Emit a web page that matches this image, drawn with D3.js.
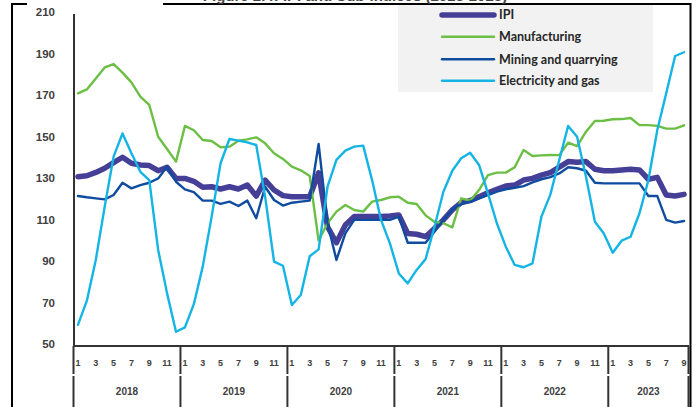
<!DOCTYPE html>
<html><head><meta charset="utf-8">
<script src="https://cdn.jsdelivr.net/npm/d3@7"></script>
<style>
html,body{margin:0;padding:0;background:#fff;}
svg{display:block;}
</style></head>
<body>
<svg id="chart" width="698" height="407"></svg>
<script>
// ---- data ----
const years = [2018, 2019, 2020, 2021, 2022, 2023];
const monthsPerYear = [12, 12, 12, 12, 12, 9];
const yTicks = [50, 70, 90, 110, 130, 150, 170, 190, 210];
const seriesNames = ["IPI", "Manufacturing", "Mining and quarrying", "Electricity and gas"];

const ipi = [130.6,131.1,132.7,134.7,137.4,140.0,137.1,136.3,136.0,133.5,135.2,129.8,
  129.8,128.4,125.5,125.8,124.7,125.8,124.7,126.6,121.3,129.0,124.2,121.5,
  121.0,121.0,121.0,132.5,106.5,98.8,107.3,111.4,111.4,111.4,111.4,111.7,
  112.2,103.3,102.9,101.7,105.7,109.8,114.6,118.1,119.1,121.0,122.9,124.5,
  126.1,126.6,129.0,129.8,131.4,132.6,135.2,137.9,137.6,137.9,134.2,133.5,
  133.5,133.9,134.2,133.9,129.4,130.3,121.8,121.3,122.1];
const manufacturing = [170.8,172.7,178.0,183.3,184.9,180.8,176.1,169.2,165.2,149.9,144.0,137.9,
  155.1,153.0,148.3,147.8,144.8,145.1,148.0,148.6,149.6,146.7,141.9,139.2,
  135.5,133.7,131.0,99.8,108.2,113.8,117.0,114.6,113.8,118.6,119.4,120.7,
  121.0,118.1,117.5,112.0,108.9,108.2,106.2,120.2,119.1,124.2,131.4,132.6,
  132.6,135.2,143.5,140.6,140.9,141.1,141.0,147.0,145.4,152.3,157.5,157.6,
  158.3,158.4,158.9,155.5,155.5,155.1,153.8,153.8,155.4];
const mining = [121.3,120.7,120.2,119.7,121.8,127.7,125.0,126.6,127.7,129.8,135.4,128.2,
  124.5,123.2,119.1,119.1,117.5,118.6,116.5,119.1,110.6,125.8,119.4,116.7,
  118.1,118.6,119.1,146.4,108.2,90.5,103.3,109.8,109.8,109.8,109.8,109.8,
  111.4,98.8,98.8,98.8,104.1,109.8,114.9,117.5,118.6,120.2,121.8,123.4,
  124.5,125.3,126.1,127.9,129.4,130.4,132.2,135.2,134.7,133.5,127.7,127.4,
  127.4,127.4,127.4,127.4,121.3,121.3,109.8,108.5,109.3];
const electricity = [59.2,70.9,90.5,116.2,140.3,151.5,141.9,133.0,129.0,95.3,74.4,55.9,
  58.0,69.2,87.3,111.4,137.1,148.8,148.0,147.2,145.9,121.0,89.7,87.7,
  68.8,73.6,92.3,95.6,125.8,138.7,143.2,145.1,145.6,129.0,109.8,98.5,
  84.0,79.2,85.7,90.9,106.5,123.4,133.5,139.5,142.2,136.3,122.6,108.2,
  96.9,88.1,87.0,88.9,111.4,122.0,138.7,155.1,149.9,130.6,108.9,103.3,
  94.0,99.8,101.7,113.0,129.0,153.1,170.8,188.8,190.6];

const seriesData = [ipi, manufacturing, mining, electricity];
const colors = ["#463f97", "#6cbf45", "#0f4c9f", "#14b4e4"];
const widths = [5.5, 2.4, 2.4, 2.4];

// ---- categories ----
const cats = [];
years.forEach((y, yi) => { for (let m = 1; m <= monthsPerYear[yi]; m++) cats.push({year: y, month: m, idx: cats.length}); });

const svg = d3.select("#chart");
const ink = "#333333";
const txt = "#404040";
const font = "'Liberation Sans', Arial, sans-serif";
const legFont = "Lato, 'Liberation Sans', sans-serif";

const x = d3.scaleBand().domain(cats.map(d => d.idx)).range([73.5, 688.5]).padding(0);
const y = d3.scaleLinear().domain([50, 210]).range([344, 12]);
const cx = i => x(i) + x.bandwidth() / 2;

// frame
svg.append("rect").attr("x", 12).attr("y", 4).attr("width", 678.5).attr("height", 420)
  .attr("fill", "none").attr("stroke", "#000").attr("stroke-width", 2);

// title (cut off at the top, as in the reference)
svg.append("rect").attr("x", 27).attr("y", 0).attr("width", 136).attr("height", 7).attr("fill", "#fff");
svg.append("text").attr("x", 355).attr("y", 1).attr("text-anchor", "middle")
  .attr("font-family", font).attr("font-weight", "bold").attr("font-size", 15).attr("fill", "#444")
  .text("Figure 2.4: IPI and Sub-indices (2018-2023)");

// legend box
svg.append("rect").attr("x", 398).attr("y", 5).attr("width", 255).attr("height", 87).attr("fill", "#f2f2f2");
const legY = [15, 36.7, 59.3, 80.7];
seriesNames.forEach((n, i) => {
  svg.append("line").attr("x1", 442).attr("x2", 494).attr("y1", legY[i]).attr("y2", legY[i])
    .attr("stroke", colors[i]).attr("stroke-width", widths[i]).attr("stroke-linecap", "round");
  svg.append("text").attr("x", 499).attr("y", legY[i]).attr("dy", "0.35em")
    .attr("font-family", legFont).attr("font-weight", "bold").attr("font-size", 12.5)
    .attr("fill", "#262626").text(n);
});

// y axis
const yAxis = d3.axisLeft(y).tickValues(yTicks).tickSize(0).tickPadding(19).tickFormat(d3.format("d"));
const gy = svg.append("g").attr("transform", "translate(74,0)").call(yAxis);
gy.select(".domain").remove();
gy.selectAll("text").attr("font-family", font).attr("font-weight", "bold").attr("font-size", 11.5).attr("fill", txt);
svg.append("line").attr("x1", 74).attr("x2", 74).attr("y1", 14).attr("y2", 346)
  .attr("stroke", ink).attr("stroke-width", 2);

// x axis line
svg.append("line").attr("x1", 73).attr("x2", 689).attr("y1", 346).attr("y2", 346)
  .attr("stroke", ink).attr("stroke-width", 2);

// year separators
const seps = years.map(yr => x(cats.find(c => c.year === yr).idx)).concat([x.range()[1]]);
seps.forEach(sx => {
  svg.append("line").attr("x1", sx).attr("x2", sx).attr("y1", 346).attr("y2", 374)
    .attr("stroke", ink).attr("stroke-width", 2);
  svg.append("line").attr("x1", sx).attr("x2", sx).attr("y1", 376).attr("y2", 407)
    .attr("stroke", ink).attr("stroke-width", 2);
});

// month labels
const xAxis = d3.axisBottom(x).tickValues(cats.filter(c => c.month % 2 === 1).map(c => c.idx))
  .tickSize(0).tickPadding(0).tickFormat(i => cats[i].month);
const gx = svg.append("g").attr("transform", "translate(0,359)").call(xAxis);
gx.select(".domain").remove();
gx.selectAll("text").attr("dy", "0.35em").attr("y", 4).attr("font-family", font)
  .attr("font-weight", "bold").attr("font-size", 9).attr("fill", txt);

// year labels
years.forEach((yr, yi) => {
  const yc = cats.filter(c => c.year === yr);
  const mid = (x(yc[0].idx) + x(yc[yc.length - 1].idx) + x.bandwidth()) / 2;
  svg.append("text").attr("x", mid).attr("y", 391).attr("dy", "0.35em").attr("text-anchor", "middle")
    .attr("font-family", font).attr("font-weight", "bold").attr("font-size", 10).attr("fill", txt).text(yr);
});

// lines
const line = d3.line().x((d, i) => cx(i)).y(d => y(d));
seriesData.forEach((s, i) => {
  svg.append("path").datum(s).attr("d", line).attr("fill", "none")
    .attr("stroke", colors[i]).attr("stroke-width", widths[i])
    .attr("stroke-linejoin", "round").attr("stroke-linecap", "round");
});
</script>
</body></html>
